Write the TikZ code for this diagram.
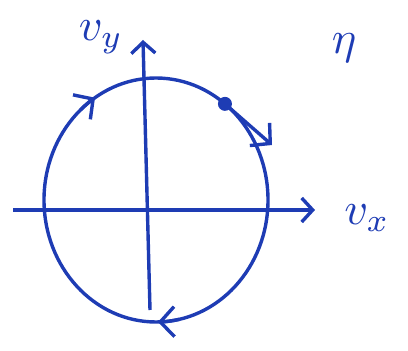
\documentclass[tikz,border=0pt]{standalone}
\usepackage{amsmath,amssymb}
\usepackage{tikz}
\usetikzlibrary{positioning, calc, arrows.meta}

\definecolor{ink}{RGB}{30,60,180}

\begin{document}
\begin{tikzpicture}[
        x=1pt, y=1pt,
        line width=3.4pt,
        draw=ink,
        ink,
        axis/.style={-{Straight Barb[length=11pt, width=24pt, line width=3.4pt]}},
        flow/.style={-{Straight Barb[length=14pt, width=30pt, line width=3.4pt]}},
        label/.style={text=ink, scale=4.6, inner sep=0pt}
    ]

        \useasboundingbox (0,0) rectangle (408,351);

        % Axes
        \coordinate (xs) at (13,141);
        \coordinate (xe) at (315,141);
        \coordinate (ys) at (150,41);
        \coordinate (ye) at (143,311);
        \draw[axis] (xs) -- (xe);
        \draw[axis] (ys) -- (ye);

        % Axis labels
        \node[label] (vx) at (367,133) {$v_x$};
        \node[label] (vy) at (101,314) {$v_y$};
        \node[label] (eta) at (344,303) {$\eta$};

        % Circle of velocities
        \coordinate (c) at (156,151);
        \draw (c) ellipse [x radius=112, y radius=122];

        % Direction of motion
        \draw[flow] ($(c)+(132:112 and 122)$) arc [start angle=132, end angle=123, x radius=112, y radius=122];
        \draw[flow] ($(c)+(282:112 and 122)$) arc [start angle=282, end angle=271, x radius=112, y radius=122];

        % Point and its velocity change
        \coordinate (p) at ($(c)+(52:112 and 122)$);
        \coordinate (q) at (272,206);
        \fill (p) circle (7);
        \draw[flow] (p) -- (q);

    \end{tikzpicture}
\end{document}
